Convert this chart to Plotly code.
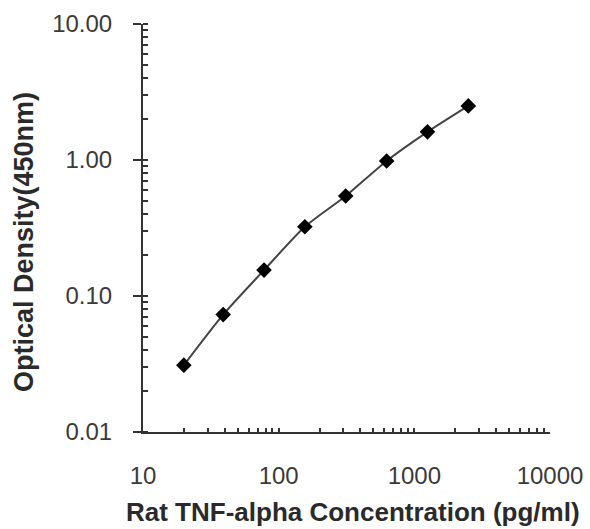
import plotly.graph_objects as go

concentration = [20, 39, 78, 156, 312, 625, 1250, 2500]
optical_density = [0.031, 0.073, 0.155, 0.323, 0.544, 0.984, 1.61, 2.50]

x_tick_vals = [10, 100, 1000, 10000]
x_tick_text = ["10", "100", "1000", "10000"]
y_tick_vals = [0.01, 0.1, 1, 10]
y_tick_text = ["0.01", "0.10", "1.00", "10.00"]

x_title = "Rat TNF-alpha Concentration (pg/ml)"
y_title = "Optical Density(450nm)"

axis_color = "#333333"
font_family = "Liberation Sans, Arial, sans-serif"

fig = go.Figure()
fig.add_trace(go.Scatter(
    x=concentration,
    y=optical_density,
    mode="lines+markers",
    line=dict(color="#444444", width=2, shape="spline", smoothing=0.7),
    marker=dict(symbol="diamond", size=12, color="#000000"),
    showlegend=False,
))

fig.update_layout(
    width=590,
    height=529,
    margin=dict(l=143, r=40, t=24, b=97),
    paper_bgcolor="white",
    plot_bgcolor="white",
    font=dict(family=font_family, color="#3a3a3a"),
    xaxis=dict(
        type="log",
        range=[1, 4],
        automargin=False,
        tickvals=x_tick_vals,
        ticktext=x_tick_text,
        ticks="inside",
        ticklen=4,
        tickwidth=1.5,
        tickcolor=axis_color,
        minor=dict(ticks="inside", ticklen=4, tickcolor=axis_color, dtick="D1", showgrid=False),
        showline=True,
        linecolor=axis_color,
        linewidth=2,
        showgrid=False,
        zeroline=False,
        tickfont=dict(size=24, color="#3a3a3a"),
        ticklabelstandoff=21,
    ),
    yaxis=dict(
        type="log",
        range=[-2, 1],
        automargin=False,
        tickvals=y_tick_vals,
        ticktext=y_tick_text,
        ticks="outside",
        ticklen=8,
        tickwidth=1.5,
        tickcolor=axis_color,
        minor=dict(ticks="inside", ticklen=5, tickcolor=axis_color, dtick="D1", showgrid=False),
        showline=True,
        linecolor=axis_color,
        linewidth=2,
        showgrid=False,
        zeroline=False,
        tickfont=dict(size=24, color="#3a3a3a"),
        ticklabelstandoff=16,
    ),
    annotations=[
        dict(
            text="<b>" + x_title + "</b>",
            xref="paper", yref="paper",
            x=0.516, y=-0.196,
            xanchor="center", yanchor="middle",
            showarrow=False,
            font=dict(size=26, color="#2a2a2a", family=font_family),
        ),
        dict(
            text="<b>" + y_title + "</b>",
            xref="paper", yref="paper",
            x=-0.2924, y=0.4657,
            xanchor="center", yanchor="middle",
            textangle=-90,
            showarrow=False,
            font=dict(size=27, color="#2a2a2a", family=font_family),
        ),
    ],
)

fig.write_html(
    "out.html",
    config={"displayModeBar": False},
    post_script="document.body.style.margin='0';document.body.style.padding='0';document.body.style.overflow='hidden';",
)
